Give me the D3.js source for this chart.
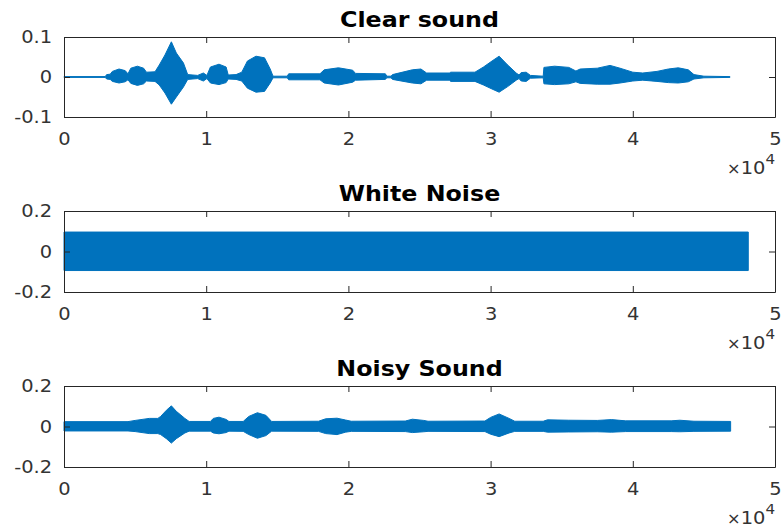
<!DOCTYPE html>
<html lang="en">
<head>
<meta charset="UTF-8">
<title>Clear sound, White Noise, Noisy Sound</title>
<script src="https://d3js.org/d3.v7.min.js"></script>
<style>
  body { margin: 0; background: #fff; }
  svg { display: block; }
  text { font-family: "DejaVu Sans", sans-serif; fill: #262626; }
  .title { font-weight: bold; font-size: 22px; fill: #000; }
  .tick text { font-size: 18px; fill: #333; }
  .tick line, .domain { stroke: #262626; }
  .exp { font-size: 18px; fill: #333; }
</style>
</head>
<body>
<svg width="784" height="530"></svg>
<script>
// envelope of each signal (sample index, max, min)
const clearPos = [0, 2900, 3000, 3250, 3400, 3870, 4300, 4500, 4700, 5160, 5600, 5800, 6400, 6700, 7100, 7550, 7900, 8400, 8700, 9400,
  9800, 10050, 10300, 10900, 11400, 11550, 12100, 12500, 12900, 13500, 14100, 14500, 14700, 15700, 15800, 18000, 18300, 19300, 20300, 20500,
  22600, 22700, 23000, 23100, 24500, 25100, 25500, 27100, 27200, 28900, 29500, 30100, 30600, 31200, 31800, 32000, 32150, 32500, 32800, 33700,
  33750, 34500, 35500, 36000, 36300, 37500, 38400, 39100, 40000, 40700, 41700, 42500, 43200, 43900, 44300, 45000, 46830];
const clearUpper = [0.001, 0.001, 0.006, 0.007, 0.014, 0.020, 0.016, 0.008, 0.022, 0.027, 0.022, 0.012, 0.013, 0.030, 0.055, 0.088, 0.060, 0.035, 0.006, 0.004,
  0.010, 0.004, 0.025, 0.032, 0.025, 0.005, 0.006, 0.012, 0.040, 0.052, 0.048, 0.020, 0.002, 0.002, 0.008, 0.008, 0.018, 0.023, 0.017, 0.009,
  0.008, 0.002, 0.002, 0.006, 0.018, 0.020, 0.010, 0.010, 0.012, 0.012, 0.025, 0.040, 0.052, 0.030, 0.010, 0.005, 0.011, 0.012, 0.004, 0.002,
  0.024, 0.027, 0.024, 0.015, 0.020, 0.022, 0.029, 0.022, 0.012, 0.010, 0.014, 0.020, 0.023, 0.018, 0.006, 0.002, 0.001];
const clearLower = [-0.001, -0.001, -0.005, -0.006, -0.011, -0.015, -0.012, -0.007, -0.016, -0.021, -0.017, -0.010, -0.011, -0.020, -0.040, -0.068, -0.050, -0.025, -0.006, -0.004,
  -0.010, -0.004, -0.015, -0.019, -0.014, -0.005, -0.006, -0.010, -0.028, -0.038, -0.036, -0.015, -0.002, -0.002, -0.007, -0.007, -0.015, -0.020, -0.013, -0.008,
  -0.006, -0.002, -0.002, -0.006, -0.015, -0.017, -0.008, -0.008, -0.011, -0.011, -0.020, -0.030, -0.038, -0.024, -0.008, -0.004, -0.010, -0.011, -0.003, -0.002,
  -0.017, -0.019, -0.017, -0.012, -0.016, -0.018, -0.018, -0.015, -0.010, -0.008, -0.011, -0.014, -0.015, -0.012, -0.005, -0.002, -0.001];

const whitePos = [0, 48120];
const whiteUpper = [0.096, 0.096];
const whiteLower = [-0.094, -0.094];

const noisyPos = [0, 4500, 5000, 6000, 6600, 6800, 7200, 7550, 7900, 8500, 8800, 10300, 10500, 10900, 11400, 11600, 12600, 13000, 13600, 14200,
  14600, 17900, 18400, 19200, 19800, 20200, 24000, 24500, 25300, 25600, 29600, 30000, 30600, 31300, 31700, 33700, 34000, 35500, 37500, 38500,
  39500, 42700, 43300, 44300, 46880];
const noisyUpper = [0.024, 0.024, 0.030, 0.040, 0.040, 0.050, 0.080, 0.102, 0.075, 0.040, 0.025, 0.025, 0.040, 0.046, 0.035, 0.025, 0.025, 0.050, 0.068, 0.055,
  0.025, 0.026, 0.038, 0.041, 0.032, 0.026, 0.027, 0.036, 0.030, 0.026, 0.027, 0.045, 0.062, 0.040, 0.026, 0.026, 0.033, 0.031, 0.030, 0.034,
  0.028, 0.028, 0.031, 0.026, 0.025];
const noisyLower = [-0.022, -0.022, -0.025, -0.035, -0.035, -0.040, -0.060, -0.082, -0.060, -0.032, -0.023, -0.023, -0.032, -0.036, -0.030, -0.023, -0.024, -0.040, -0.058, -0.045,
  -0.023, -0.024, -0.035, -0.040, -0.028, -0.024, -0.025, -0.030, -0.026, -0.024, -0.025, -0.038, -0.050, -0.032, -0.024, -0.024, -0.028, -0.027, -0.026, -0.028,
  -0.025, -0.025, -0.026, -0.024, -0.023];

const titles = ["Clear sound", "White Noise", "Noisy Sound"];
const xTicks = [0, 10000, 20000, 30000, 40000, 50000];
const xTickLabels = ["0", "1", "2", "3", "4", "5"];
const clearYTicks = [-0.1, 0, 0.1];
const noiseYTicks = [-0.2, 0, 0.2];

const panels = [
  { title: titles[0], pos: clearPos, hi: clearUpper, lo: clearLower, yTicks: clearYTicks, top: 37, bottom: 117 },
  { title: titles[1], pos: whitePos, hi: whiteUpper, lo: whiteLower, yTicks: noiseYTicks, top: 211, bottom: 292 },
  { title: titles[2], pos: noisyPos, hi: noisyUpper, lo: noisyLower, yTicks: noiseYTicks, top: 386, bottom: 467 }
];

const svg = d3.select("svg");
const left = 64, right = 775;
const stretch = "scale(1.08,1)";

const x = d3.scaleLinear().domain([0, 50000]).range([left, right]);

panels.forEach(p => {
  const ext = d3.max(p.yTicks);
  const y = d3.scaleLinear().domain([-ext, ext]).range([p.bottom, p.top]);
  const g = svg.append("g");

  const rows = p.pos.map((d, i) => ({ pos: d, hi: p.hi[i], lo: p.lo[i] }));
  const area = d3.area()
    .x(d => x(d.pos))
    .y0(d => y(d.lo))
    .y1(d => y(d.hi));

  g.append("path")
    .datum(rows)
    .attr("d", area)
    .attr("fill", "#0072BD")
    .attr("stroke", "#0072BD")
    .attr("stroke-width", 1);

  const fmtY = d => d === 0 ? "0" : String(d);

  g.append("g")
    .attr("transform", `translate(0,${p.bottom})`)
    .call(d3.axisBottom(x).tickValues(xTicks).tickFormat((d, i) => xTickLabels[i]).tickSizeInner(-6).tickSizeOuter(0).tickPadding(15))
    .call(a => a.selectAll("text").attr("transform", stretch));
  g.append("g")
    .attr("transform", `translate(0,${p.top})`)
    .call(d3.axisTop(x).tickValues(xTicks).tickFormat("").tickSizeInner(-6).tickSizeOuter(0));
  g.append("g")
    .attr("transform", `translate(${left},0)`)
    .call(d3.axisLeft(y).tickValues(p.yTicks).tickFormat(fmtY).tickSizeInner(-6).tickSizeOuter(0).tickPadding(11))
    .call(a => a.selectAll("text").attr("transform", stretch));
  g.append("g")
    .attr("transform", `translate(${right},0)`)
    .call(d3.axisRight(y).tickValues(p.yTicks).tickFormat("").tickSizeInner(-6).tickSizeOuter(0));

  g.selectAll("g").attr("font-family", null).attr("font-size", null);

  g.append("text")
    .attr("class", "title")
    .attr("text-anchor", "middle")
    .attr("transform", `translate(${(left + right) / 2},${p.top - 10}) ${stretch}`)
    .text(p.title);

  const exp = g.append("text")
    .attr("class", "exp")
    .attr("text-anchor", "end")
    .attr("transform", `translate(${right},${p.bottom + 57}) ${stretch}`);
  exp.append("tspan").style("font-size", "15px").text("\u00d7");
  exp.append("tspan").text("10");
  exp.append("tspan").attr("dy", -10).style("font-size", "14px").text("4");
});
</script>
</body>
</html>
